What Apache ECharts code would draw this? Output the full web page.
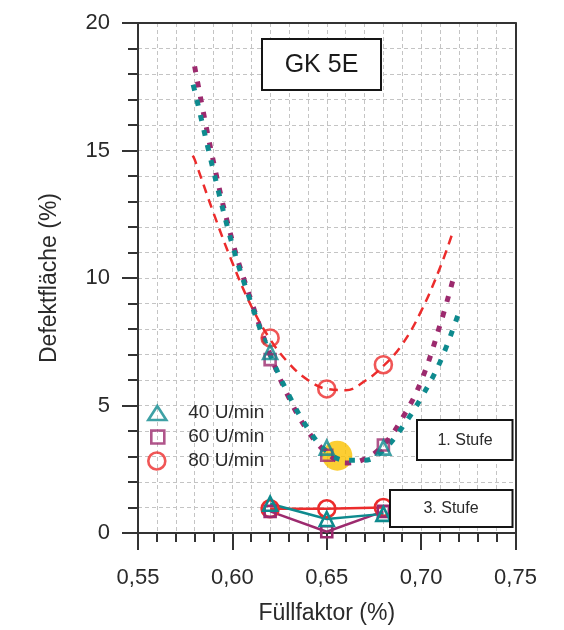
<!DOCTYPE html>
<html><head><meta charset="utf-8">
<script src="https://cdn.jsdelivr.net/npm/echarts@6/dist/echarts.min.js"></script>
<style>html,body{margin:0;padding:0;background:#fff}#c{width:564px;height:630px}</style>
</head><body><div id="c"></div>
<script>
// ---- data ----
const fuellfaktor = [0.62, 0.65, 0.68];
const stufe1_40 = [7.1, 3.35, 3.35];
const stufe1_60 = [6.8, 3.05, 3.45];
const stufe1_80 = [7.65, 5.65, 6.6];
const stufe3_40 = [1.15, 0.55, 0.75];
const stufe3_60 = [0.85, 0.05, 0.85];
const stufe3_80 = [0.95, 0.95, 1.0];
const fit40 = [[0.578,17.9],[0.58,17.35],[0.59,14.2],[0.60,11.3],[0.61,9.0],[0.62,7.0],[0.63,5.4],[0.64,4.1],[0.65,3.2],[0.66,2.85],[0.67,2.85],[0.68,3.25],[0.69,4.15],[0.70,5.3],[0.71,6.7],[0.72,8.65]];
const fit60 = [[0.58,18.3],[0.59,14.55],[0.60,11.45],[0.61,9.1],[0.62,7.0],[0.63,5.3],[0.64,4.0],[0.65,3.15],[0.66,2.75],[0.67,2.9],[0.68,3.45],[0.69,4.5],[0.70,5.95],[0.71,8.15],[0.7175,10.1]];
const fit80 = [[0.579,14.8],[0.58,14.65],[0.59,12.55],[0.60,10.6],[0.61,8.9],[0.62,7.6],[0.63,6.65],[0.64,6.0],[0.65,5.65],[0.66,5.6],[0.67,5.95],[0.68,6.55],[0.69,7.4],[0.70,8.7],[0.71,10.4],[0.717,11.85]];
const optimum = [[0.6556, 3.03]];
const seriesNames = ['40 U/min', '60 U/min', '80 U/min'];
const boxLabels = ['GK 5E', '1. Stufe', '3. Stufe'];
const xTitle = 'Füllfaktor (%)';
const yTitle = 'Defektfläche (%)';

// ---- styling ----
const FONT = 'Liberation Sans, Arial, sans-serif';
const TEAL = '#0e8a8e', PURPLE = '#9c2a6e', RED = '#ec2c2c', GOLD = '#fbc200';
const TXT = '#2a2a2a';
const pairs = ys => fuellfaktor.map((x, i) => [x, ys[i]]);
const hollow = c => ({ color: 'rgba(0,0,0,0)', borderColor: c, borderWidth: 2.6 });
const gridLine = { show: true, lineStyle: { color: '#c4c4c4', type: [4, 3], width: 1 } };
const frameAxis = { axisLine: { show: true, onZero: false, lineStyle: { color: '#333', width: 2 } }, axisTick: { show: false }, axisLabel: { show: false }, splitLine: { show: false } };

const chart = echarts.init(document.getElementById('c'), null, { renderer: 'canvas' });

function legendItem(name, icon, color, left, top, w, h, pad) {
  return {
    data: [{ name: name, icon: icon }], left: left, top: top, padding: 0,
    itemWidth: w, itemHeight: h, symbolKeepAspect: false, selectedMode: false,
    itemStyle: hollow(color),
    textStyle: { fontFamily: FONT, fontSize: 19, color: TXT, lineHeight: 20, padding: [0, 0, 0, pad] }
  };
}

const option = {
  animation: false,
  backgroundColor: '#fff',
  grid: { left: 138, right: 48.5, top: 23, bottom: 92 },
  xAxis: [{
    type: 'value', min: 0.55, max: 0.75, interval: 0.05,
    name: xTitle, nameLocation: 'middle', nameGap: 69,
    nameTextStyle: { fontFamily: FONT, fontSize: 23, color: TXT },
    axisLine: { onZero: false, lineStyle: { color: '#333', width: 2 } },
    axisTick: { length: 17, lineStyle: { color: '#333', width: 2 } },
    minorTick: { show: true, splitNumber: 5, length: 9, lineStyle: { color: '#333', width: 2 } },
    axisLabel: { fontFamily: FONT, fontSize: 22, color: TXT, margin: 34, formatter: v => v.toFixed(2).replace('.', ',') },
    splitLine: gridLine, minorSplitLine: gridLine
  }, Object.assign({ type: 'value', position: 'top', min: 0.55, max: 0.75, interval: 0.05 }, frameAxis)],
  yAxis: [{
    type: 'value', min: 0, max: 20, interval: 5,
    name: yTitle, nameLocation: 'middle', nameGap: 77,
    nameTextStyle: { fontFamily: FONT, fontSize: 23, color: TXT },
    axisLine: { show: true, onZero: false, lineStyle: { color: '#333', width: 2 } },
    axisTick: { show: true, length: 16, lineStyle: { color: '#333', width: 2 } },
    minorTick: { show: true, splitNumber: 5, length: 10, lineStyle: { color: '#333', width: 2 } },
    axisLabel: { fontFamily: FONT, fontSize: 22, color: TXT, margin: 28 },
    splitLine: gridLine, minorSplitLine: gridLine
  }, Object.assign({ type: 'value', position: 'right', min: 0, max: 20, interval: 5 }, frameAxis)],
  legend: [
    legendItem(seriesNames[0], 'triangle', TEAL, 147, 403, 18, 14, 17),
    legendItem(seriesNames[1], 'rect', PURPLE, 150, 427, 13, 13, 19),
    legendItem(seriesNames[2], 'circle', RED, 147, 451, 17, 17, 18)
  ],
  graphic: [
    { type: 'rect', z: 100, shape: { x: 262, y: 39, width: 119, height: 51 }, style: { fill: '#fff', stroke: '#151515', lineWidth: 2 } },
    { type: 'text', z: 101, x: 321.5, y: 65, style: { text: boxLabels[0], fontFamily: FONT, fontSize: 25, fill: '#1a1a1a', align: 'center', verticalAlign: 'middle' } },
    { type: 'rect', z: 100, shape: { x: 417, y: 420, width: 95.5, height: 40 }, style: { fill: '#fff', stroke: '#151515', lineWidth: 2 } },
    { type: 'text', z: 101, x: 465, y: 440.5, style: { text: boxLabels[1], fontFamily: FONT, fontSize: 16, fill: TXT, align: 'center', verticalAlign: 'middle' } },
    { type: 'rect', z: 100, shape: { x: 390, y: 490, width: 122.5, height: 37 }, style: { fill: '#fff', stroke: '#151515', lineWidth: 2 } },
    { type: 'text', z: 101, x: 451, y: 509, style: { text: boxLabels[2], fontFamily: FONT, fontSize: 16, fill: TXT, align: 'center', verticalAlign: 'middle' } }
  ],
  series: [
    { name: 'optimum', type: 'scatter', data: optimum, symbol: 'circle', symbolSize: 30, itemStyle: { color: GOLD }, z: 1, silent: true },
    { name: 'fit 80', type: 'line', data: fit80, smooth: 0.4, showSymbol: false, z: 2, silent: true,
      lineStyle: { color: RED, width: 2.5, type: [9, 6.5] } },
    { name: 'fit 60', type: 'line', data: fit60, smooth: 0.4, showSymbol: false, z: 2, silent: true,
      lineStyle: { color: PURPLE, width: 5, type: [6, 9.5] } },
    { name: 'fit 40', type: 'line', data: fit40, smooth: 0.4, showSymbol: false, z: 2, silent: true,
      lineStyle: { color: TEAL, width: 5, type: [6, 9.5], dashOffset: 7 } },
    { name: seriesNames[2], type: 'scatter', data: pairs(stufe1_80), symbol: 'circle', symbolSize: 17, itemStyle: hollow(RED), z: 3 },
    { name: seriesNames[1], type: 'scatter', data: pairs(stufe1_60), symbol: 'rect', symbolSize: 11, itemStyle: hollow(PURPLE), z: 3 },
    { name: seriesNames[0], type: 'scatter', data: pairs(stufe1_40), symbol: 'triangle', symbolSize: 14, itemStyle: hollow(TEAL), z: 3 },
    { name: seriesNames[2], type: 'line', data: pairs(stufe3_80), symbol: 'circle', symbolSize: 17, showSymbol: true, itemStyle: hollow(RED), lineStyle: { color: RED, width: 2.5 }, z: 3 },
    { name: seriesNames[1], type: 'line', data: pairs(stufe3_60), symbol: 'rect', symbolSize: 11, showSymbol: true, itemStyle: hollow(PURPLE), lineStyle: { color: PURPLE, width: 2.5 }, z: 3 },
    { name: seriesNames[0], type: 'line', data: pairs(stufe3_40), symbol: 'triangle', symbolSize: 14, showSymbol: true, itemStyle: hollow(TEAL), lineStyle: { color: TEAL, width: 2.5 }, z: 3 }
  ]
};
chart.setOption(option);
</script></body></html>
